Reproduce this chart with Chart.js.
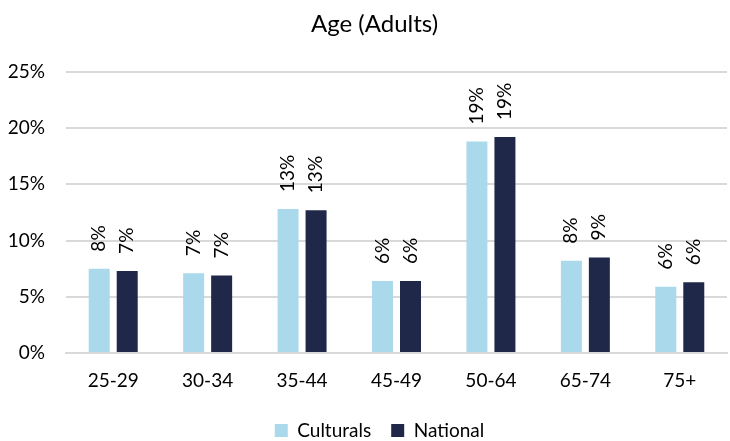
<!DOCTYPE html>
<html>
<head>
<meta charset="utf-8">
<script src="https://cdn.jsdelivr.net/npm/chart.js@4/dist/chart.umd.min.js"></script>
<style>
  html, body { margin: 0; padding: 0; background: #ffffff; }
  #wrap { width: 730px; height: 441px; position: relative; }
</style>
</head>
<body>
<div id="wrap"><canvas id="chart" width="730" height="441"></canvas></div>
<script>
const categories = ['25-29', '30-34', '35-44', '45-49', '50-64', '65-74', '75+'];
const culturals = [7.5, 7.1, 12.8, 6.4, 18.8, 8.2, 5.9];
const national = [7.3, 6.9, 12.7, 6.4, 19.2, 8.5, 6.3];
const yTicks = [0, 5, 10, 15, 20, 25];

const FONT = "Lato, 'Open Sans', sans-serif";

// Draws each bar's rounded percentage above it, rotated to read bottom-up
const valueLabels = {
  id: 'valueLabels',
  afterDatasetsDraw(chart) {
    const ctx = chart.ctx;
    ctx.save();
    ctx.fillStyle = '#000000';
    ctx.font = "19px " + FONT;
    ctx.textAlign = 'left';
    ctx.textBaseline = 'middle';
    chart.data.datasets.forEach((ds, i) => {
      const meta = chart.getDatasetMeta(i);
      meta.data.forEach((bar, j) => {
        const txt = Math.round(ds.data[j]) + '%';
        ctx.save();
        ctx.translate(bar.x, bar.y - 17);
        ctx.rotate(-Math.PI / 2);
        ctx.fillText(txt, 0, 0);
        ctx.restore();
      });
    });
    ctx.restore();
  }
};

// Centre the title and legend over the plot area rather than the whole canvas
const centreOnPlot = {
  id: 'centreOnPlot',
  afterLayout(chart) {
    const shift = (box, dx) => { if (box) { box.left += dx; box.right += dx; } };
    shift(chart.titleBlock, 11);
    shift(chart.legend, 16);
  }
};

new Chart(document.getElementById('chart'), {
  type: 'bar',
  data: {
    labels: categories,
    datasets: [
      { label: 'Culturals', data: culturals, backgroundColor: '#A9D9EA', borderWidth: 0 },
      { label: 'National', data: national, backgroundColor: '#1F2849', borderWidth: 0 }
    ]
  },
  options: {
    responsive: false,
    animation: false,
    devicePixelRatio: 1,
    layout: { padding: { left: 0, right: 3, top: 0, bottom: -9 } },
    datasets: { bar: { categoryPercentage: 0.593, barPercentage: 0.75 } },
    plugins: {
      title: {
        display: true,
        text: 'Age (Adults)',
        color: '#000000',
        font: { family: FONT, size: 24, weight: 'normal' },
        padding: { top: 10, bottom: 33 }
      },
      legend: {
        position: 'bottom',
        labels: {
          color: '#000000',
          font: { family: FONT, size: 19 },
          boxWidth: 13,
          boxHeight: 13,
          padding: 20
        }
      },
      tooltip: { enabled: false }
    },
    scales: {
      x: {
        grid: { display: false, drawTicks: false },
        border: { display: true, color: '#D9D9D9', width: 2 },
        ticks: { color: '#000000', font: { family: FONT, size: 19 }, padding: 16 },
        afterFit(scale) { scale.height = 48; }
      },
      y: {
        min: 0,
        max: 25,
        afterBuildTicks(axis) { axis.ticks = yTicks.map(v => ({ value: v })); },
        grid: { color: '#D9D9D9', lineWidth: 2, drawTicks: false },
        border: { display: false },
        ticks: {
          color: '#000000',
          font: { family: FONT, size: 19 },
          padding: 21,
          callback: v => v + '%'
        },
        afterFit(scale) { scale.width = 66; }
      }
    }
  },
  plugins: [valueLabels, centreOnPlot]
});
</script>
</body>
</html>
